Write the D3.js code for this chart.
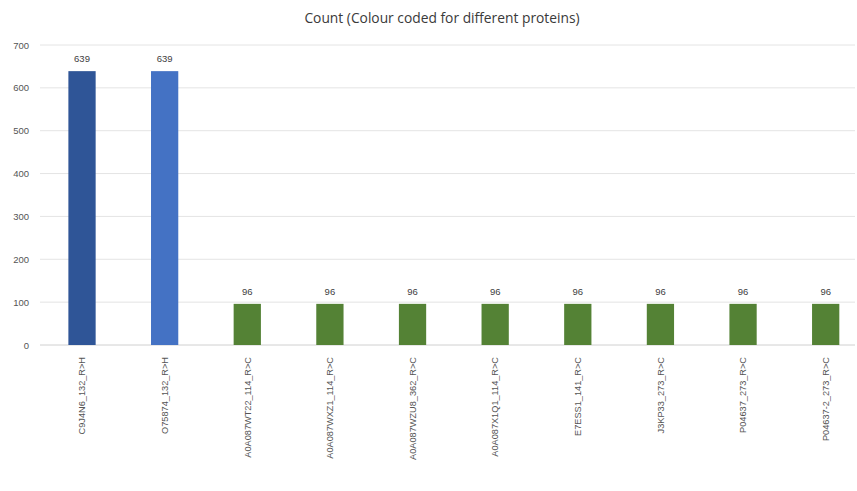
<!DOCTYPE html>
<html><head><meta charset="utf-8">
<script src="https://cdn.jsdelivr.net/npm/d3@7"></script>
<style>body{margin:0;background:#fff;}svg{display:block;}</style>
</head><body>
<svg id="chart" width="857" height="491"></svg>
<script>
const categories = ["C9J4N6_132_R>H","O75874_132_R>H","A0A087WT22_114_R>C","A0A087WXZ1_114_R>C","A0A087WZU8_362_R>C","A0A087X1Q1_114_R>C","E7ESS1_141_R>C","J3KP33_273_R>C","P04637_273_R>C","P04637-2_273_R>C"];
const values = [639,639,96,96,96,96,96,96,96,96];
const barColors = ["#2f5597","#4472c4","#548235","#548235","#548235","#548235","#548235","#548235","#548235","#548235"];
const yTicks = [0,100,200,300,400,500,600,700];
const title = "Count (Colour coded for different proteins)";

const svg = d3.select("#chart");
const x = d3.scaleBand().domain(categories).range([40.7, 867]).paddingInner(0.67).paddingOuter(0.335);
const y = d3.scaleLinear().domain([0,700]).range([345,45]);

svg.append("text").attr("x",442).attr("y",23).attr("text-anchor","middle")
  .attr("font-family","Open Sans, Liberation Sans, sans-serif").attr("font-size",13.8).attr("fill","#3a3a3a").text(title);

const g = svg.append("g");
g.selectAll("line.grid").data(yTicks).enter().append("line")
  .attr("x1",40).attr("x2",855).attr("y1",d=>y(d)).attr("y2",d=>y(d))
  .attr("stroke",d=>d===0?"#d0d0d0":"#e4e4e4").attr("stroke-width",1);

const yAxis = d3.axisLeft(y).tickValues(yTicks).tickSize(0).tickPadding(0);
const ya = svg.append("g").attr("transform","translate(29,0)").call(yAxis);
ya.select(".domain").remove();
ya.selectAll("text").attr("font-family","Liberation Sans, sans-serif").attr("font-size",9.5).attr("fill","#555");

g.selectAll("rect.bar").data(values).enter().append("rect")
  .attr("x",(d,i)=>x(categories[i])).attr("width",x.bandwidth())
  .attr("y",d=>y(d)).attr("height",d=>y(0)-y(d)).attr("fill",(d,i)=>barColors[i]);

g.selectAll("text.val").data(values).enter().append("text")
  .attr("x",(d,i)=>x(categories[i])+x.bandwidth()/2).attr("y",d=>y(d)-9)
  .attr("text-anchor","middle").attr("font-family","Liberation Sans, sans-serif").attr("font-size",9.5).attr("fill","#404040").text(d=>d);

const xAxis = d3.axisBottom(x).tickSize(0).tickPadding(0);
const xa = svg.append("g").attr("transform","translate(0,357)").call(xAxis);
xa.select(".domain").remove();
xa.selectAll("text").attr("font-family","Liberation Sans, sans-serif").attr("font-size",9.2).attr("fill","#555")
  .attr("transform","rotate(-90)").attr("text-anchor","end").attr("dy","0.35em").attr("x",0).attr("y",0);
</script>
</body></html>
